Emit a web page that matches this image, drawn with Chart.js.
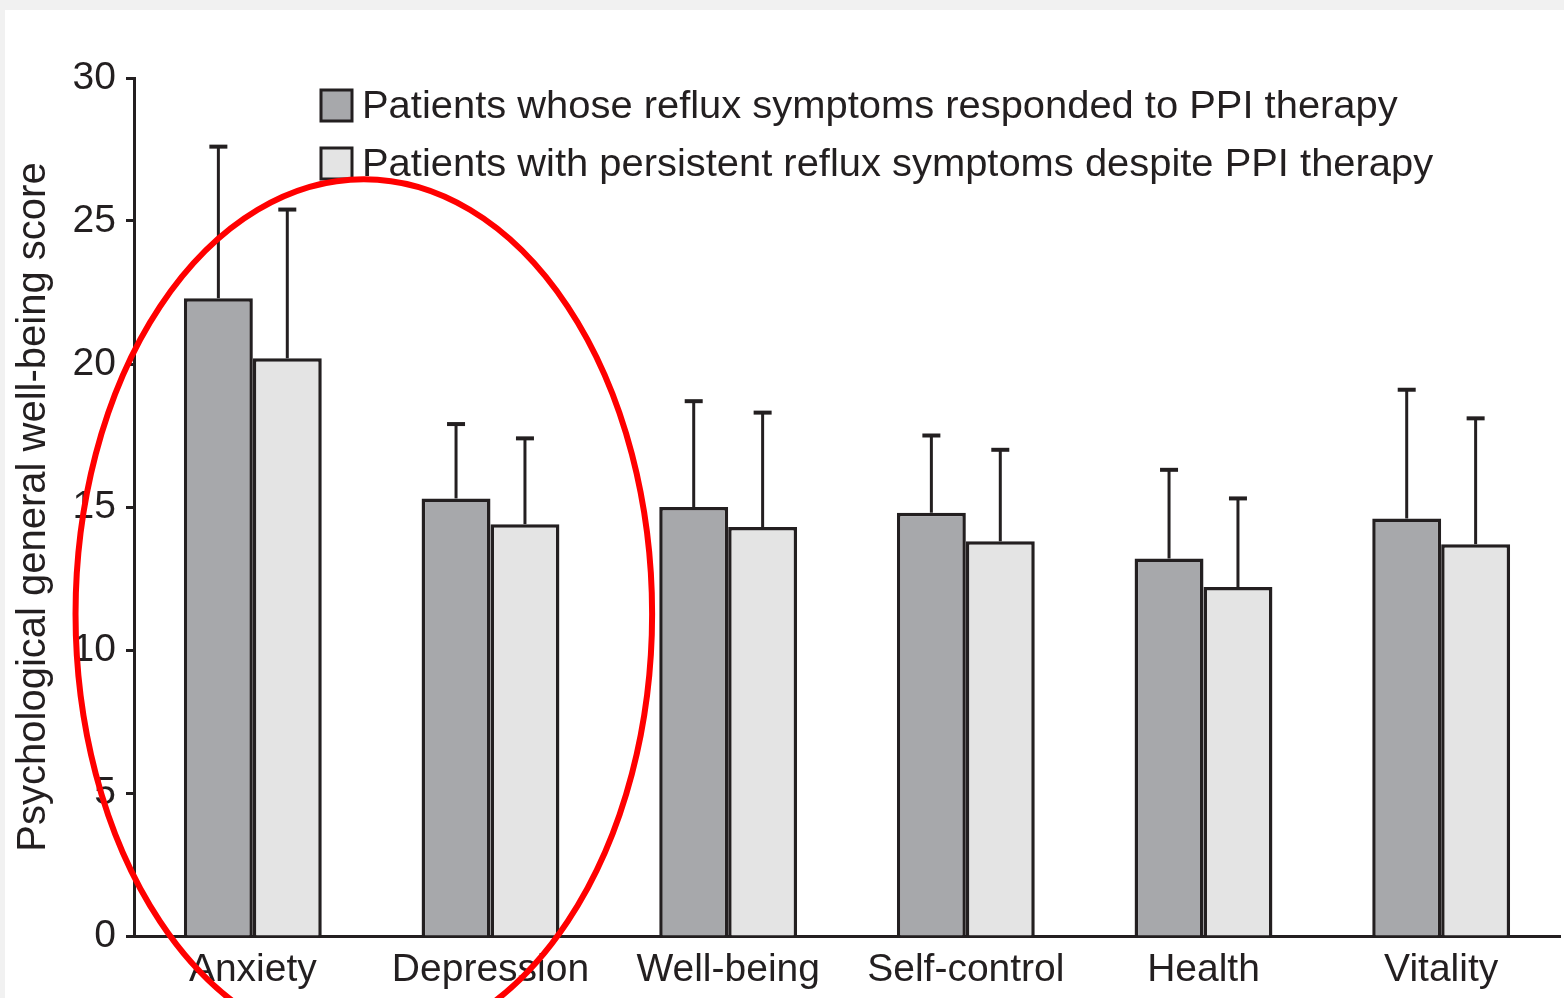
<!DOCTYPE html>
<html>
<head>
<meta charset="utf-8">
<script src="https://cdn.jsdelivr.net/npm/chart.js@4/dist/chart.umd.min.js"></script>
<style>
  html, body { margin: 0; padding: 0; background: #f1f1f1; width: 1564px; height: 998px; overflow: hidden; }
  #wrap { position: absolute; left: 5px; top: 10px; width: 1559px; height: 988px; background: #ffffff; }
  canvas { display: block; }
</style>
</head>
<body>
<div id="wrap"><canvas id="c" width="1559" height="988"></canvas></div>
<script>
// ---- data ----
const categories = ['Anxiety', 'Depression', 'Well-being', 'Self-control', 'Health', 'Vitality'];
const seriesLabels = [
  'Patients whose reflux symptoms responded to PPI therapy',
  'Patients with persistent reflux symptoms despite PPI therapy'
];
const respondedMean = [22.3, 15.3, 15.0, 14.8, 13.2, 14.6];
const respondedErrTop = [27.6, 17.9, 18.7, 17.5, 16.3, 19.1];
const persistentMean = [20.2, 14.4, 14.3, 13.8, 12.2, 13.7];
const persistentErrTop = [25.4, 17.4, 18.3, 17.0, 15.3, 18.1];
const yTicks = [0, 5, 10, 15, 20, 25, 30];
const yTitle = 'Psychological general well-being score';
// highlight ellipse in data units (category index, value)
const ellipseCenter = { x: 0.467, y: 11.26 };
const ellipseRadius = { x: 1.213, y: 15.2 };

const INK = '#231f20';
const FONT = '"Liberation Sans", Arial, Helvetica, sans-serif';
const errTops = [respondedErrTop, persistentErrTop];

const errorBars = {
  id: 'errorBars',
  afterDatasetsDraw(chart) {
    const ctx = chart.ctx, y = chart.scales.y;
    ctx.save();
    ctx.strokeStyle = INK;
    chart.data.datasets.forEach((ds, di) => {
      const meta = chart.getDatasetMeta(di);
      meta.data.forEach((bar, i) => {
        const x = bar.x;
        const yTop = y.getPixelForValue(errTops[di][i]);
        const yBase = bar.y;
        ctx.lineWidth = 3;
        ctx.beginPath();
        ctx.moveTo(x, yBase);
        ctx.lineTo(x, yTop);
        ctx.stroke();
        ctx.lineWidth = 4;
        ctx.beginPath();
        ctx.moveTo(x - 9, yTop);
        ctx.lineTo(x + 9, yTop);
        ctx.stroke();
      });
    });
    ctx.restore();
  }
};

const customLegend = {
  id: 'customLegend',
  afterDatasetsDraw(chart) {
    const ctx = chart.ctx, a = chart.chartArea;
    chart.data.datasets.forEach((ds, i) => {
      const bx = a.left + 187, by = a.top + 12 + i * 58, s = 31;
      ctx.save();
      ctx.fillStyle = ds.backgroundColor;
      ctx.fillRect(bx, by, s, s);
      ctx.strokeStyle = INK;
      ctx.lineWidth = 3;
      ctx.strokeRect(bx, by, s, s);
      ctx.fillStyle = INK;
      ctx.font = '38px ' + FONT;
      ctx.textBaseline = 'middle';
      ctx.translate(bx + s + 10, by + s / 2 + 2);
      ctx.scale(1.05, 1);
      ctx.fillText(ds.label, 0, 0);
      ctx.restore();
    });
  }
};

const highlight = {
  id: 'highlight',
  afterDraw(chart) {
    const ctx = chart.ctx, xs = chart.scales.x, ys = chart.scales.y;
    const cx = xs.getPixelForValue(ellipseCenter.x);
    const cy = ys.getPixelForValue(ellipseCenter.y);
    const step = xs.getPixelForValue(1) - xs.getPixelForValue(0);
    const rx = ellipseRadius.x * step;
    const ry = ys.getPixelForValue(0) - ys.getPixelForValue(ellipseRadius.y);
    ctx.save();
    ctx.strokeStyle = '#ff0000';
    ctx.lineWidth = 6;
    ctx.beginPath();
    ctx.ellipse(cx, cy, rx, ry, 0, 0, Math.PI * 2);
    ctx.stroke();
    ctx.restore();
  }
};

new Chart(document.getElementById('c'), {
  type: 'bar',
  data: {
    labels: categories,
    datasets: [
      { label: seriesLabels[0], data: respondedMean, backgroundColor: '#a7a8ab', borderColor: INK, borderWidth: 3.5, borderSkipped: 'bottom' },
      { label: seriesLabels[1], data: persistentMean, backgroundColor: '#e4e4e4', borderColor: INK, borderWidth: 3.5, borderSkipped: 'bottom' }
    ]
  },
  options: {
    responsive: false,
    animation: false,
    layout: { padding: { left: 0, right: 4, top: 68, bottom: 0 } },
    plugins: { legend: { display: false }, tooltip: { enabled: false } },
    datasets: { bar: { categoryPercentage: 0.58, barPercentage: 1.0 } },
    scales: {
      x: {
        grid: { display: false, drawTicks: false },
        border: { display: true, color: INK, width: 3 },
        ticks: { color: INK, font: { family: FONT, size: 39 }, padding: 11, maxRotation: 0, autoSkip: false },
        afterFit(s) { s.height = 62; }
      },
      y: {
        min: 0, max: 30,
        afterBuildTicks(s) { s.ticks = yTicks.map(v => ({ value: v })); },
        grid: { drawOnChartArea: false, drawTicks: true, tickLength: 8, tickColor: INK, tickWidth: 3 },
        border: { display: true, color: INK, width: 3 },
        ticks: { color: INK, font: { family: FONT, size: 39 }, padding: 10 },
        title: { display: true, text: yTitle, color: INK, font: { family: FONT, size: 40 }, padding: { top: 5, bottom: 0 } },
        afterFit(s) { s.width = 129; }
      }
    }
  },
  plugins: [errorBars, customLegend, highlight]
});
</script>
</body>
</html>
